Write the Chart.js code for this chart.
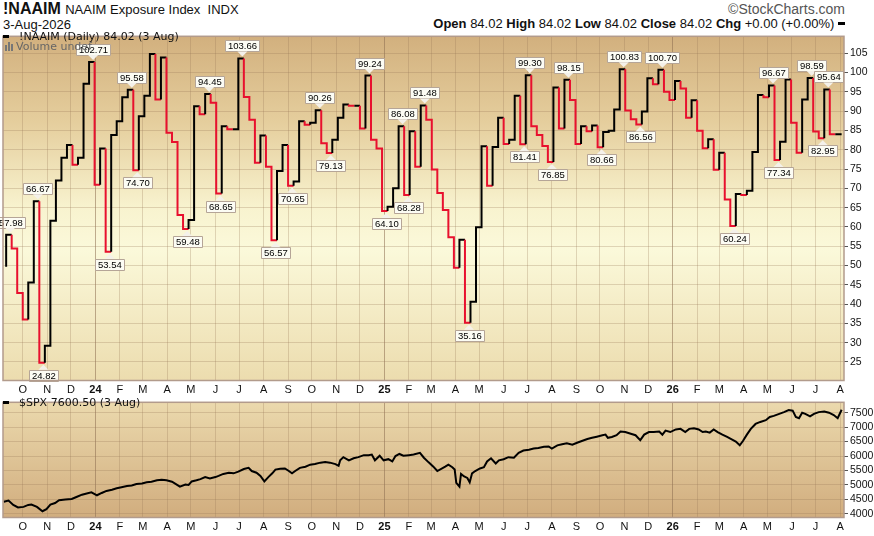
<!DOCTYPE html>
<html>
<head>
<meta charset="utf-8">
<script src="https://cdn.jsdelivr.net/npm/chart.js@4.4.1/dist/chart.umd.min.js"></script>
<style>
body { margin: 0; width: 874px; height: 536px; background: #fff; position: relative; overflow: hidden; }
canvas { position: absolute; left: 0; }
#naaimChart { top: 28px; }
#spxChart { top: 394px; }
.t { position: absolute; white-space: nowrap; color: #111; }
.nar { font-family: "Liberation Sans Narrow", "Liberation Sans", Arial, sans-serif; }
.leg { font: 11px "DejaVu Sans", Verdana, sans-serif; line-height: 13px; }
.dash { display: inline-block; width: 6px; height: 3px; background: #000; vertical-align: middle; position: relative; top: -1px; }
.leg .dash { margin-right: 10px; }
</style>
</head>
<body>
<div class="t nar" style="left:3px;top:0px;font-size:16px;font-weight:bold;">!NAAIM <span style="font-weight:normal;font-size:13px;">NAAIM Exposure Index&nbsp; INDX</span></div>
<div class="t nar" style="left:3px;top:17px;font-size:13px;">3-Aug-2026</div>
<div class="t" style="right:29px;top:1px;font:14px 'Liberation Sans', Arial, sans-serif;color:#555;">&copy;StockCharts.com</div>
<div class="t nar" style="right:29px;top:16px;font-size:13px;"><b>Open</b> 84.02 <b>High</b> 84.02 <b>Low</b> 84.02 <b>Close</b> 84.02 <b>Chg</b> +0.00 (+0.00%) <span class="dash" style="width:7px"></span></div>

<canvas id="naaimChart" width="874" height="368"></canvas>
<canvas id="spxChart" width="874" height="142"></canvas>

<div class="t leg" style="left:3px;top:30px;"><span class="dash"></span>!NAAIM (Daily) 84.02 (3 Aug)</div>
<div class="t leg" style="left:5px;top:40px;color:#666;"><svg width="10" height="9" style="vertical-align:-1px;margin-right:1px"><rect x="0" y="3" width="2" height="6" fill="#777"/><rect x="3" y="0" width="2" height="9" fill="#777"/><rect x="6" y="2" width="2" height="7" fill="#777"/></svg>Volume undef</div>
<div class="t leg" style="left:3px;top:396px;"><span class="dash"></span>$SPX 7600.50 (3 Aug)</div>

<script>
// NAAIM weekly readings (each value ends its week on the step)
const naaimFirstWeekEnd = '2023-09-10';
const naaimLastDay = '2026-08-03';
const naaimValues = [
  49.7, 57.98, 54.4, 42.9, 36.0, 45.6, 66.67, 24.82, 29.2, 61.6,
  72.0, 77.9, 81.2, 76.1, 77.9, 97.1, 102.71, 70.9, 80.3, 53.54,
  83.8, 87.4, 93.6, 95.58, 74.70, 88.7, 94.0, 104.8, 93.0, 103.9,
  84.4, 82.0, 63.1, 59.48, 61.8, 91.3, 89.2, 94.45, 92.2, 68.65,
  86.1, 85.3, 85.3, 103.66, 93.7, 87.8, 76.6, 83.7, 75.6, 56.57,
  74.5, 81.2, 70.65, 71.8, 87.4, 86.5, 87.0, 90.26, 81.7, 79.13,
  82.6, 88.3, 91.7, 91.4, 91.4, 85.5, 99.24, 82.6, 80.3, 64.10,
  65.2, 70.0, 86.08, 68.28, 84.8, 75.6, 91.48, 87.8, 74.9, 68.8,
  64.4, 57.3, 49.4, 56.7, 35.16, 40.6, 59.9, 80.9, 70.7, 80.7,
  88.3, 81.5, 82.6, 94.0, 81.41, 99.30, 86.1, 83.8, 81.0, 76.85,
  96.1, 85.5, 98.15, 92.9, 81.5, 86.1, 84.8, 86.3, 80.66, 84.6,
  84.9, 90.4, 100.83, 90.2, 87.9, 86.56, 89.9, 98.5, 97.0, 100.70,
  95.0, 92.9, 97.8, 95.9, 88.3, 92.8, 84.9, 80.4, 82.7, 74.8,
  79.2, 67.1, 60.24, 68.5, 68.3, 69.4, 79.4, 94.2, 93.6, 96.67,
  77.34, 82.1, 98.2, 87.0, 79.2, 93.0, 98.59, 84.7, 82.95, 95.64,
  84.02
];
// which readings carry a value flag
const peakIdx = [1, 6, 16, 23, 37, 43, 57, 66, 72, 76, 95, 102, 112, 119, 139, 146, 149];
const troughIdx = [7, 19, 24, 33, 39, 49, 52, 59, 69, 73, 84, 94, 99, 108, 115, 132, 140, 148];
const naaimTicks = [25, 30, 35, 40, 45, 50, 55, 60, 65, 70, 75, 80, 85, 90, 95, 100, 105];

// S&P 500, days counted from 1 Oct 2023
const spxDays = [
  -24, -18, -12, -6, 1, 7, 11, 18, 25, 30,
  35, 41, 46, 54, 62, 68, 75, 81, 87, 94,
  100, 106, 113, 119, 125, 132, 138, 144, 151, 157,
  163, 170, 176, 182, 189, 195, 199, 206, 210, 214,
  220, 225, 231, 237, 244, 248, 254, 261, 267, 273,
  280, 286, 290, 296, 301, 306, 311, 316, 320, 326,
  332, 337, 341, 345, 351, 358, 364, 370, 377, 383,
  389, 396, 400, 402, 406, 413, 419, 425, 432, 438,
  442, 446, 452, 457, 463, 468, 472, 477, 482, 489,
  495, 503, 508, 514, 520, 525, 535, 539, 544, 547,
  549, 553, 555, 559, 563, 566, 569, 573, 579, 584,
  588, 593, 599, 603, 609, 615, 622, 628, 634, 641,
  647, 653, 660, 666, 670, 677, 683, 689, 696, 702,
  708, 715, 721, 727, 734, 738, 741, 746, 752, 757,
  763, 770, 776, 782, 787, 793, 799, 806, 810, 814,
  820, 827, 833, 839, 844, 850, 856, 861, 865, 870,
  875, 880, 886, 892, 899, 903, 908, 912, 917, 922,
  928, 934, 941, 946, 951, 958, 964, 970, 975, 979,
  983, 987, 991, 997, 1002, 1008, 1015, 1021, 1027, 1032,
  1037
];
const spxValues = [
  4413, 4456, 4305, 4217, 4238, 4305, 4320, 4238, 4087, 4160,
  4320, 4370, 4470, 4490, 4510, 4580, 4660, 4700, 4740, 4640,
  4720, 4790, 4830, 4880, 4920, 4960, 4980, 5030, 5050, 5090,
  5110, 5160, 5180, 5160, 5110, 5010, 4940, 5010, 5000, 5120,
  5160, 5200, 5270, 5220, 5270, 5310, 5380, 5420, 5400, 5460,
  5550, 5590, 5480, 5420, 5310, 5120, 5270, 5400, 5530, 5560,
  5570, 5480, 5400, 5480, 5590, 5630, 5700, 5720, 5770, 5790,
  5770, 5720, 5660, 5850, 5960, 5850, 5920, 5960, 6030, 6030,
  6050, 5850, 6010, 5850, 5890, 5810, 6000, 6070, 6010, 6030,
  6050, 6110, 5940, 5780, 5630, 5480, 5630, 5700, 5610, 5530,
  5070, 4940, 5380, 5290, 5240, 5090, 5400, 5480, 5570, 5610,
  5810, 5920, 5740, 5850, 5890, 5960, 5940, 6110, 6190, 6220,
  6260, 6280, 6320, 6330, 6260, 6370, 6410, 6440, 6390, 6460,
  6520, 6590, 6630, 6670, 6720, 6740, 6630, 6660, 6720, 6850,
  6830, 6770, 6720, 6550, 6740, 6830, 6830, 6850, 6740, 6880,
  6830, 6920, 6940, 6830, 6940, 6960, 6920, 6830, 6850, 6810,
  6920, 6830, 6740, 6660, 6560, 6500, 6370, 6520, 6740, 6940,
  7110, 7180, 7240, 7350, 7390, 7460, 7520, 7590, 7570, 7350,
  7310, 7500, 7460, 7370, 7460, 7520, 7540, 7500, 7420, 7310,
  7600.5
];
const spxTicks = [4000, 4500, 5000, 5500, 6000, 6500, 7000, 7500];
const monthLetters = ['J', 'F', 'M', 'A', 'M', 'J', 'J', 'A', 'S', 'O', 'N', 'D'];

const baseMs = Date.UTC(2023, 9, 1);
const dayOf = s => Math.round((Date.parse(s + 'T00:00:00Z') - baseMs) / 864e5);
const xMin = dayOf('2023-09-06');
const xMax = dayOf('2026-08-06');

// month gridlines / labels
const monthTicks = [];
for (let y = 2023, m = 9; y < 2026 || m <= 7; m++) {
  if (m > 11) { m = 0; y++; }
  monthTicks.push({ value: (Date.UTC(y, m, 1) - baseMs) / 864e5, label: m === 0 ? String(y % 100) : monthLetters[m], year: m === 0 });
}
const isYearTick = v => monthTicks.some(t => t.year && t.value === v);

const naaimPoints = naaimValues.map((v, i) => ({ x: dayOf(naaimFirstWeekEnd) + 7 * i, y: v }));
naaimPoints.push({ x: dayOf(naaimLastDay), y: naaimValues[naaimValues.length - 1] });
const spxPoints = spxValues.map((v, i) => ({ x: spxDays[i], y: v }));

const panelBg = {
  id: 'panelBg',
  beforeDraw(chart, args, opts) {
    const { ctx, chartArea: a } = chart;
    const g = ctx.createLinearGradient(0, a.top, 0, a.bottom);
    opts.stops.forEach(s => g.addColorStop(s[0], s[1]));
    ctx.save();
    ctx.fillStyle = g;
    ctx.fillRect(a.left, a.top, a.right - a.left, a.bottom - a.top);
    ctx.restore();
  },
  afterDraw(chart) {
    const { ctx, chartArea: a } = chart;
    ctx.save();
    ctx.strokeStyle = '#b29b8c';
    ctx.lineWidth = 1.5;
    ctx.strokeRect(a.left, a.top, a.right - a.left, a.bottom - a.top);
    ctx.restore();
  }
};

// value flags above peaks and below troughs
const flags = {
  id: 'flags',
  afterDatasetsDraw(chart) {
    const { ctx } = chart;
    const pts = chart.getDatasetMeta(0).data;
    ctx.save();
    ctx.font = '9.5px "Liberation Sans", Arial, sans-serif';
    ctx.textAlign = 'center';
    ctx.textBaseline = 'middle';
    const draw = (i, up) => {
      const p = pts[i];
      const txt = naaimValues[i].toFixed(2);
      const x = p.x - 1.5;
      const w = ctx.measureText(txt).width + 5;
      const h = 11;
      const dir = up ? -1 : 1;
      const tip = p.y + dir * 2;
      const base = tip + dir * 5;
      const boxY = up ? base - h : base;
      ctx.fillStyle = '#fcfcf4';
      ctx.strokeStyle = '#b5a597';
      ctx.lineWidth = 1;
      ctx.beginPath();
      ctx.rect(Math.round(x - w / 2) + 0.5, Math.round(boxY) + 0.5, Math.round(w), h);
      ctx.fill();
      ctx.stroke();
      ctx.beginPath();
      ctx.moveTo(x - 5, base);
      ctx.lineTo(x, tip);
      ctx.lineTo(x + 5, base);
      ctx.closePath();
      ctx.fillStyle = '#f4f1ea';
      ctx.fill();
      ctx.fillStyle = '#000';
      ctx.fillText(txt, Math.round(x - w / 2) + w / 2 + 0.5, Math.round(boxY) + h / 2 + 1);
    };
    peakIdx.forEach(i => draw(i, true));
    troughIdx.forEach(i => draw(i, false));
    ctx.restore();
  }
};

const gridColor = 'rgba(150, 120, 85, 0.28)';
function xScale(axisHeight) {
  return {
    type: 'linear',
    min: xMin,
    max: xMax,
    afterBuildTicks: s => { s.ticks = monthTicks.map(t => ({ value: t.value })); },
    afterFit: s => { s.height = axisHeight; },
    grid: {
      drawTicks: false,
      color: c => (c.tick && isYearTick(c.tick.value)) ? 'rgba(140, 110, 80, 0.55)' : gridColor
    },
    border: { display: false },
    ticks: {
      autoSkip: false,
      maxRotation: 0,
      padding: 3,
      color: '#111',
      font: c => ({ family: '"Liberation Sans", Arial, sans-serif', size: 11, weight: (c.tick && isYearTick(c.tick.value)) ? 'bold' : 'normal' }),
      callback: v => { const t = monthTicks.find(m => m.value === v); return t ? t.label : ''; }
    }
  };
}
function yScale(min, max, tickList) {
  return {
    position: 'right',
    min: min,
    max: max,
    afterBuildTicks: s => { s.ticks = tickList.map(v => ({ value: v })); },
    afterFit: s => { s.width = 30; },
    grid: { color: gridColor, tickColor: '#555', tickLength: 4 },
    border: { display: false },
    ticks: { padding: 2, color: '#111', font: { family: '"Liberation Sans", Arial, sans-serif', size: 10.5 }, callback: v => String(v) }
  };
}

new Chart(document.getElementById('naaimChart'), {
  type: 'line',
  data: {
    datasets: [{
      data: naaimPoints,
      stepped: 'after',
      borderWidth: 2,
      pointRadius: 0,
      borderColor: '#000',
      segment: { borderColor: c => c.p1.parsed.y < c.p0.parsed.y ? '#e8102e' : '#000' }
    }]
  },
  options: {
    responsive: false,
    animation: false,
    devicePixelRatio: 1,
    layout: { padding: { left: 3, top: 2, right: 0, bottom: 0 } },
    plugins: {
      legend: { display: false },
      tooltip: { enabled: false },
      panelBg: { stops: [[0, '#d2b07e'], [0.25, '#e5ce9d'], [0.5, '#f8f3cf'], [0.62, '#fbf9da'], [1, '#ecdcae']] }
    },
    scales: { x: xScale(15.5), y: yScale(20.2, 109.4, naaimTicks) }
  },
  plugins: [panelBg, flags]
});

new Chart(document.getElementById('spxChart'), {
  type: 'line',
  data: {
    datasets: [{
      data: spxPoints,
      borderColor: '#000',
      borderWidth: 2,
      pointRadius: 0,
      tension: 0
    }]
  },
  options: {
    responsive: false,
    animation: false,
    devicePixelRatio: 1,
    layout: { padding: { left: 3, top: 1, right: 0, bottom: 0 } },
    plugins: {
      legend: { display: false },
      tooltip: { enabled: false },
      panelBg: { stops: [[0, '#ebd9ad'], [1, '#d1ad7e']] }
    },
    scales: { x: xScale(18.5), y: yScale(3870, 7860, spxTicks) }
  },
  plugins: [panelBg]
});
</script>
</body>
</html>
